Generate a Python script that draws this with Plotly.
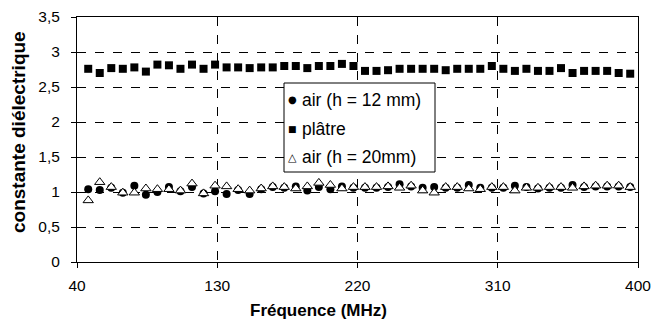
import plotly.graph_objects as go

freq = [47.2, 54.6, 62.0, 69.4, 76.8, 84.2, 91.6, 99.0, 106.4, 113.8, 121.2, 128.6,
        136.0, 143.4, 150.8, 158.2, 165.6, 173.0, 180.4, 187.8, 195.2, 202.6, 210.0, 217.4,
        224.8, 232.2, 239.6, 247.0, 254.4, 261.8, 269.2, 276.6, 284.0, 291.4, 298.8, 306.2,
        313.6, 321.0, 328.4, 335.8, 343.2, 350.6, 358.0, 365.4, 372.8, 380.2, 387.6, 395.0]

air_12mm = [1.04, 1.03, 1.06, 0.99, 1.09, 0.96, 1.00, 1.07, 1.01, 1.07, 0.98, 1.01,
            0.97, 1.03, 0.97, 1.04, 1.07, 1.06, 1.08, 1.02, 1.07, 1.04, 1.08, 1.06,
            1.06, 1.06, 1.07, 1.11, 1.08, 1.06, 1.07, 1.06, 1.06, 1.10, 1.06, 1.06,
            1.06, 1.09, 1.07, 1.05, 1.06, 1.06, 1.10, 1.07, 1.08, 1.08, 1.08, 1.07]

platre = [2.76, 2.70, 2.77, 2.76, 2.78, 2.72, 2.82, 2.81, 2.76, 2.82, 2.76, 2.82,
          2.78, 2.78, 2.77, 2.78, 2.78, 2.80, 2.80, 2.77, 2.80, 2.80, 2.83, 2.80,
          2.73, 2.73, 2.74, 2.76, 2.76, 2.76, 2.76, 2.74, 2.76, 2.76, 2.76, 2.80,
          2.76, 2.73, 2.76, 2.73, 2.73, 2.77, 2.70, 2.73, 2.73, 2.73, 2.70, 2.69]

air_20mm = [0.88, 1.14, 1.07, 0.99, 0.99, 1.05, 1.04, 1.04, 1.02, 1.12, 0.98, 1.09,
            1.08, 1.04, 1.02, 1.05, 1.08, 1.07, 1.05, 1.08, 1.13, 1.10, 1.05, 1.07,
            1.07, 1.07, 1.08, 1.06, 1.09, 1.02, 0.99, 1.07, 1.07, 1.05, 1.04, 1.07,
            1.07, 1.02, 1.06, 1.06, 1.07, 1.07, 1.06, 1.08, 1.09, 1.09, 1.09, 1.07]

series_names = ["air (h = 12 mm)", "plâtre", "air (h = 20mm)"]
legend_glyphs = ["●", "■", "△"]
x_ticks = [40, 130, 220, 310, 400]
y_ticks = [0, 0.5, 1, 1.5, 2, 2.5, 3, 3.5]
y_labels = ["0", "0,5", "1", "1,5", "2", "2,5", "3", "3,5"]
x_title = "Fréquence (MHz)"
y_title = "constante diélectrique"

FONT = "Liberation Sans, Arial, sans-serif"
W, H = 653, 334
L, R, T, B = 77, 15, 17, 72
PW, PH = W - L - R, H - T - B


def px(x):
    return (x - L) / PW


def py(y):
    return (H - B - y) / PH


fig = go.Figure()
fig.add_trace(go.Scatter(x=freq, y=air_12mm, mode="markers", name=series_names[0],
                         marker=dict(symbol="circle", size=8, color="black")))
fig.add_trace(go.Scatter(x=freq, y=platre, mode="markers", name=series_names[1],
                         marker=dict(symbol="square", size=8, color="black")))
fig.add_trace(go.Scatter(x=freq, y=air_20mm, mode="markers", name=series_names[2],
                         marker=dict(symbol="triangle-up", size=9, color="white",
                                     line=dict(color="black", width=1))))

annotations = []
shapes = []
# legend box (drawn manually to match the original compact layout)
shapes.append(dict(type="rect", xref="paper", yref="paper",
                   x0=px(284), x1=px(435), y0=py(172), y1=py(83),
                   fillcolor="white", line=dict(color="black", width=1), layer="above"))
rows_y = [100, 129, 157]
glyph_sizes = [10, 9, 11]
for name, glyph, ry, gs in zip(series_names, legend_glyphs, rows_y, glyph_sizes):
    annotations.append(dict(xref="paper", yref="paper", x=px(292), y=py(ry),
                            text=glyph, showarrow=False, xanchor="center", yanchor="middle",
                            font=dict(family="DejaVu Sans", size=gs, color="black")))
    annotations.append(dict(xref="paper", yref="paper", x=px(300), y=py(ry),
                            text=name, showarrow=False, xanchor="left", yanchor="middle",
                            font=dict(family=FONT, size=17.5, color="black")))

annotations.append(dict(xref="paper", yref="paper", x=px(318), y=py(310),
                        text="<b>" + x_title + "</b>", showarrow=False,
                        xanchor="center", yanchor="middle",
                        font=dict(family=FONT, size=17, color="black")))
annotations.append(dict(xref="paper", yref="paper", x=px(18), y=py(132),
                        text="<b>" + y_title + "</b>", showarrow=False, textangle=-90,
                        xanchor="center", yanchor="middle",
                        font=dict(family=FONT, size=19, color="black")))

fig.update_layout(
    width=W, height=H,
    margin=dict(l=L, r=R, t=T, b=B, autoexpand=False),
    paper_bgcolor="white", plot_bgcolor="white",
    font=dict(family=FONT, size=15, color="black"),
    showlegend=False,
    annotations=annotations,
    shapes=shapes,
    xaxis=dict(range=[40, 400], tickvals=x_ticks, ticktext=[str(v) for v in x_ticks],
               showgrid=True, gridcolor="black", griddash="dash", gridwidth=1,
               showline=True, linecolor="black", linewidth=1, mirror=True,
               ticks="outside", ticklen=5, tickcolor="black", zeroline=False,
               ticklabelstandoff=4, tickfont=dict(size=15.5)),
    yaxis=dict(range=[0, 3.5], tickvals=y_ticks, ticktext=y_labels,
               showgrid=True, gridcolor="black", griddash="dash", gridwidth=1,
               showline=True, linecolor="black", linewidth=1, mirror=True,
               ticks="outside", ticklen=5, tickcolor="black", zeroline=False,
               ticklabelstandoff=8, tickfont=dict(size=15.5)),
)

fig.write_html("out.html", config={"displayModeBar": False},
               post_script="document.body.style.margin='0';")
